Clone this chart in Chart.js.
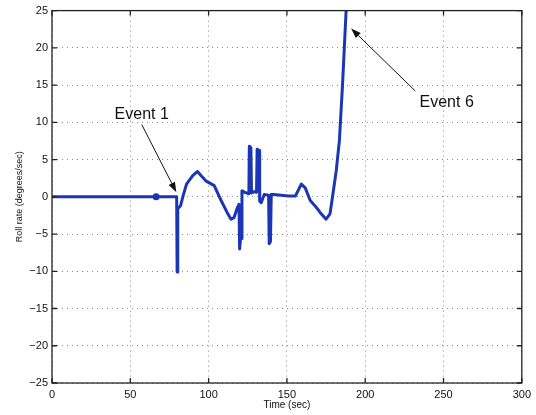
<!DOCTYPE html>
<html>
<head>
<meta charset="utf-8">
<script src="https://cdn.jsdelivr.net/npm/chart.js@4.4.1/dist/chart.umd.min.js"></script>
<style>
  html, body { margin: 0; padding: 0; background: #fff; }
  #wrap { width: 536px; height: 415px; }
</style>
</head>
<body>
<div id="wrap"><canvas id="chart" width="536" height="415"></canvas></div>
<script>
// time (sec) and roll rate (deg/sec)
const timeSec = [
  0, 66.5, 79.6, 79.9, 80.3, 82.1, 83.4, 85.9, 89.7, 92.9, 95.4, 98.5, 103.6,
  108.0, 111.8, 114.3, 116.2, 118.1, 119.4, 119.8, 120.4, 121.0, 121.3, 123.2,
  125.7, 126.0, 127.0, 127.4, 129.0, 130.6, 131.0, 132.3, 132.6, 133.6, 135.5,
  138.3, 138.7, 139.5, 140.0, 141.5, 151.0, 155.4, 159.2, 161.7, 164.9, 168.7,
  171.2, 175.0, 177.5, 179.4, 181.5, 183.5, 185.5, 187.8, 189.0
];
const rollRate = [
  0, 0, 0, -10.1, -1.6, -1.2, -0.1, 1.7, 2.8, 3.4, 2.8, 2.1, 1.5,
  -0.5, -2.1, -3.0, -2.8, -1.6, -1.0, -7.0, -5.6, -5.6, 0.8, 0.6,
  0.4, 6.8, 6.6, 0.5, 0.7, 0.6, 6.4, 6.2, -0.6, -0.8, 0.3,
  0.2, -6.3, -6.0, 0.3, 0.3, 0.1, 0.1, 1.7, 1.2, -0.5, -1.4,
  -2.1, -3.0, -2.3, 0.4, 3.5, 7.5, 15.0, 25.0, 28.0
];
const markerIndex = 1;

const xTicks = [0, 50, 100, 150, 200, 250, 300];
const yTicks = [-25, -20, -15, -10, -5, 0, 5, 10, 15, 20, 25];

// annotations: label position and arrow tail/head, in data units
const noteLabels = ["Event 1", "Event 6"];
const noteTextAt = [[57.3, 11.1], [252, 12.7]];
const noteTail = [[57.3, 9.7], [232, 14.2]];
const noteHead = [[79.4, 0.6], [191, 22.6]];

const points = timeSec.map((t, i) => ({ x: t, y: rollRate[i] }));

// box, inward ticks, and annotation arrows
const matlabAxes = {
  id: "matlabAxes",
  afterDraw(chart) {
    const { ctx, chartArea: a, scales } = chart;
    const xs = scales.x, ys = scales.y;
    ctx.save();
    ctx.strokeStyle = "#222";
    ctx.lineWidth = 1.3;
    ctx.strokeRect(a.left, a.top, a.right - a.left, a.bottom - a.top);
    ctx.beginPath();
    xTicks.forEach(v => {
      const px = xs.getPixelForValue(v);
      ctx.moveTo(px, a.bottom); ctx.lineTo(px, a.bottom - 5);
      ctx.moveTo(px, a.top); ctx.lineTo(px, a.top + 5);
    });
    yTicks.forEach(v => {
      const py = ys.getPixelForValue(v);
      ctx.moveTo(a.left, py); ctx.lineTo(a.left + 5, py);
      ctx.moveTo(a.right, py); ctx.lineTo(a.right - 5, py);
    });
    ctx.stroke();

    ctx.fillStyle = "#111";
    ctx.strokeStyle = "#111";
    ctx.lineWidth = 1;
    ctx.font = "16px 'Liberation Sans', Arial, sans-serif";
    ctx.textAlign = "center";
    ctx.textBaseline = "middle";
    noteLabels.forEach((txt, i) => {
      ctx.fillText(txt, xs.getPixelForValue(noteTextAt[i][0]), ys.getPixelForValue(noteTextAt[i][1]));
      const x0 = xs.getPixelForValue(noteTail[i][0]), y0 = ys.getPixelForValue(noteTail[i][1]);
      const x1 = xs.getPixelForValue(noteHead[i][0]), y1 = ys.getPixelForValue(noteHead[i][1]);
      const ang = Math.atan2(y1 - y0, x1 - x0);
      const L = 10, W = 3.5;
      const bx = x1 - L * Math.cos(ang), by = y1 - L * Math.sin(ang);
      ctx.beginPath();
      ctx.moveTo(x0, y0); ctx.lineTo(bx, by);
      ctx.stroke();
      ctx.beginPath();
      ctx.moveTo(x1, y1);
      ctx.lineTo(bx + W * Math.sin(ang), by - W * Math.cos(ang));
      ctx.lineTo(bx - W * Math.sin(ang), by + W * Math.cos(ang));
      ctx.closePath();
      ctx.fill();
    });
    ctx.restore();
  }
};

const tickFont = { family: "'Liberation Sans', Arial, sans-serif", size: 11 };

new Chart(document.getElementById("chart").getContext("2d"), {
  type: "line",
  data: {
    datasets: [{
      data: points,
      borderColor: "#1b36b5",
      backgroundColor: "#1b36b5",
      borderWidth: 3,
      borderJoinStyle: "round",
      borderCapStyle: "round",
      tension: 0,
      pointRadius: ctx => (ctx.dataIndex === markerIndex ? 2 : 0),
      pointHoverRadius: 0,
      fill: false
    }]
  },
  options: {
    responsive: false,
    animation: false,
    layout: { padding: { top: 9, right: 10, left: 0, bottom: 0 } },
    plugins: { legend: { display: false }, tooltip: { enabled: false } },
    scales: {
      x: {
        type: "linear",
        min: 0, max: 300,
        afterFit: s => { s.height = 32; },
        afterBuildTicks: s => { s.ticks = xTicks.map(v => ({ value: v })); },
        ticks: { font: tickFont, color: "#111", padding: 5, maxRotation: 0 },
        grid: { color: "#8a8a8a", drawTicks: false, lineWidth: 1 },
        border: { display: false, dash: [1, 4] },
        title: {
          display: true, text: "Time (sec)", color: "#111",
          font: { family: "'Liberation Sans', Arial, sans-serif", size: 10 },
          padding: { top: 0, bottom: 4 }
        }
      },
      y: {
        min: -25, max: 25,
        afterFit: s => { s.width = 52; },
        afterBuildTicks: s => { s.ticks = yTicks.map(v => ({ value: v })); },
        ticks: {
          font: tickFont, color: "#111", padding: 4,
          callback: v => String(v).replace("-", "\u2212")
        },
        grid: { color: "#8a8a8a", drawTicks: false, lineWidth: 1 },
        border: { display: false, dash: [1, 4] },
        title: {
          display: true, text: "Roll rate (degrees/sec)", color: "#111",
          font: { family: "'Liberation Sans', Arial, sans-serif", size: 9 },
          padding: { top: 14, bottom: 0 }
        }
      }
    }
  },
  plugins: [matlabAxes]
});
</script>
</body>
</html>
